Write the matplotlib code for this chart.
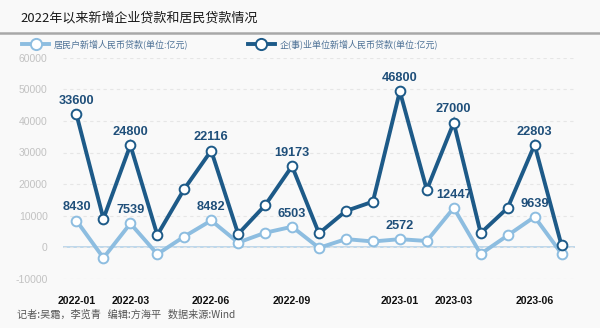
import matplotlib
matplotlib.use('Agg')
import matplotlib.pyplot as plt
from matplotlib import font_manager
from matplotlib.lines import Line2D
import numpy as np

# Monthly new RMB loans (100 million yuan)
months = ['2022-01', '2022-02', '2022-03', '2022-04', '2022-05', '2022-06',
          '2022-07', '2022-08', '2022-09', '2022-10', '2022-11', '2022-12',
          '2023-01', '2023-02', '2023-03', '2023-04', '2023-05', '2023-06',
          '2023-07']
household = [8430, -3369, 7539, -2170, 3402, 8482, 1500, 4600, 6503, -188,
             2600, 1845, 2572, 2000, 12447, -2111, 3750, 9639, -2007]
corporate = [33600, 12400, 24800, 6050, 15050, 22116, 2700, 8700, 19173, 4600,
             8900, 12600, 46800, 16200, 27000, 6600, 8700, 22803, 2600]
tick_months = ['2022-01', '2022-03', '2022-06', '2022-09', '2023-01',
               '2023-03', '2023-06']
y_ticks = [-10000, 0, 10000, 20000, 30000, 40000, 50000, 60000]

title = '2022年以来新增企业贷款和居民贷款情况'
name_household = '居民户新增人民币贷款(单位:亿元)'
name_corporate = '企(事)业单位新增人民币贷款(单位:亿元)'
footer = '记者:吴霜，李览青   编辑:方海平   数据来源:Wind'

plt.rcParams['font.family'] = ['Noto Sans CJK SC', 'DejaVu Sans']
installed = {f.name for f in font_manager.fontManager.ttflist}
num_font = [f for f in ['Liberation Sans Narrow', 'Liberation Sans'] if f in installed] + ['DejaVu Sans']

C_DARK = '#1d5a88'
C_LIGHT = '#8dbde0'
C_LABEL = '#1f4f7a'

x = np.arange(len(months))
# corporate series is stacked on top of household series
stacked = np.array(household) + np.array(corporate)

fig = plt.figure(figsize=(6, 3.28), dpi=100, facecolor='#f9f9f9')
W, H = 600, 328
ax = fig.add_axes([63 / W, 1 - 278.9 / H, 512 / W, (278.9 - 57.7) / H])
ax.set_facecolor('none')
ax.set_xlim(-0.5, len(months) - 0.5)
ax.set_ylim(-10000, 60000)
for sp in ax.spines.values():
    sp.set_visible(False)

ax.set_yticks(y_ticks)
ax.set_yticklabels([str(v) for v in y_ticks], family=num_font, fontsize=7.5,
                   color='#c2c2c2')
tick_idx = [months.index(m) for m in tick_months]
ax.set_xticks(tick_idx)
ax.set_xticklabels(tick_months, family=num_font, fontsize=7.6,
                   fontweight='bold', color='#111111')
ax.tick_params(axis='both', length=0)
ax.tick_params(axis='y', pad=11)
ax.tick_params(axis='x', pad=12)
ax.grid(axis='y', linestyle=(0, (3, 3)), color='#e6e6e6', lw=0.8)
ax.axhline(0, color='#b9d5ea', lw=1.3, zorder=1)

l1, = ax.plot(x, household, color=C_LIGHT, lw=2.8, marker='o', ms=7,
              mfc='white', mec=C_LIGHT, mew=1.4, zorder=3,
              solid_joinstyle='miter')
l2, = ax.plot(x, stacked, color=C_DARK, lw=2.8, marker='o', ms=7,
              mfc='white', mec=C_DARK, mew=1.4, zorder=4,
              solid_joinstyle='miter')

for i in tick_idx:
    ax.annotate(str(corporate[i]), (x[i], stacked[i]), xytext=(0, 5.2),
                textcoords='offset points', ha='center', va='bottom',
                family=num_font, fontsize=9.2, fontweight='bold',
                color=C_LABEL, zorder=6)
    ax.annotate(str(household[i]), (x[i], household[i]), xytext=(0, 5.2),
                textcoords='offset points', ha='center', va='bottom',
                family=num_font, fontsize=9.2, fontweight='bold',
                color=C_LABEL, zorder=6)

fig.text(20 / W, 1 - 17.5 / H, title, fontsize=9.4, color='#1a1a1a',
         ha='left', va='center')
fig.add_artist(Line2D([0, 1], [1 - 32.5 / H] * 2, color='#a8a8a8', lw=1.8))

fig.legend([l1, l2], [name_household, name_corporate], loc='center left',
           bbox_to_anchor=(14 / W, 1 - 44 / H), ncol=2, frameon=False,
           fontsize=6.5, labelcolor='#4d7196', handlelength=3.0,
           handletextpad=0.5, columnspacing=6.6, markerscale=1.15)

fig.text(17 / W, 1 - 315 / H, footer, fontsize=7.3, color='#555555',
         ha='left', va='center')

fig.savefig('out.png', dpi=100, facecolor=fig.get_facecolor())
